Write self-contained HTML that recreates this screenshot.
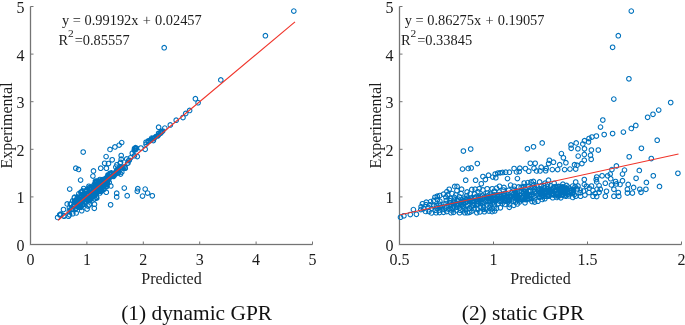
<!DOCTYPE html>
<html><head><meta charset="utf-8"><style>
html,body{margin:0;padding:0;background:#fff;width:685px;height:325px;overflow:hidden}
svg{display:block;will-change:transform}
text{font-family:"Liberation Serif",serif;fill:#1c1c1c}
</style></head><body>
<svg width="685" height="325" viewBox="0 0 685 325">
<g>
<path d="M30.5 6.5V244.5H312.5" fill="none" stroke="#e6e6e6" stroke-width="2.6"/>
<path d="M30.5 6.5V244.5H312.5" fill="none" stroke="#747474" stroke-width="1"/>
<path d="M30.5 244.5v-3M86.9 244.5v-3M143.3 244.5v-3M199.7 244.5v-3M256.1 244.5v-3M312.5 244.5v-3M30.5 244.5h3M30.5 196.9h3M30.5 149.3h3M30.5 101.69999999999999h3M30.5 54.099999999999994h3M30.5 6.5h3" stroke="#747474" stroke-width="1" fill="none"/>
<path d="M399.5 6.5V244.5H681.5" fill="none" stroke="#e6e6e6" stroke-width="2.6"/>
<path d="M399.5 6.5V244.5H681.5" fill="none" stroke="#747474" stroke-width="1"/>
<path d="M399.5 244.5v-3M493.5 244.5v-3M587.5 244.5v-3M681.5 244.5v-3M399.5 244.5h3M399.5 196.9h3M399.5 149.3h3M399.5 101.69999999999999h3M399.5 54.099999999999994h3M399.5 6.5h3" stroke="#747474" stroke-width="1" fill="none"/>
<text x="30.5" y="264.5" text-anchor="middle" font-size="16">0</text>
<text x="24.5" y="251.0" text-anchor="end" font-size="16">0</text>
<text x="393.5" y="251.0" text-anchor="end" font-size="16">0</text>
<text x="86.9" y="264.5" text-anchor="middle" font-size="16">1</text>
<text x="24.5" y="203.4" text-anchor="end" font-size="16">1</text>
<text x="393.5" y="203.4" text-anchor="end" font-size="16">1</text>
<text x="143.3" y="264.5" text-anchor="middle" font-size="16">2</text>
<text x="24.5" y="155.8" text-anchor="end" font-size="16">2</text>
<text x="393.5" y="155.8" text-anchor="end" font-size="16">2</text>
<text x="199.7" y="264.5" text-anchor="middle" font-size="16">3</text>
<text x="24.5" y="108.2" text-anchor="end" font-size="16">3</text>
<text x="393.5" y="108.2" text-anchor="end" font-size="16">3</text>
<text x="256.1" y="264.5" text-anchor="middle" font-size="16">4</text>
<text x="24.5" y="60.6" text-anchor="end" font-size="16">4</text>
<text x="393.5" y="60.6" text-anchor="end" font-size="16">4</text>
<text x="312.5" y="264.5" text-anchor="middle" font-size="16">5</text>
<text x="24.5" y="13.0" text-anchor="end" font-size="16">5</text>
<text x="393.5" y="13.0" text-anchor="end" font-size="16">5</text>
<text x="399.5" y="264.5" text-anchor="middle" font-size="16">0.5</text>
<text x="493.5" y="264.5" text-anchor="middle" font-size="16">1</text>
<text x="587.5" y="264.5" text-anchor="middle" font-size="16">1.5</text>
<text x="681.5" y="264.5" text-anchor="middle" font-size="16">2</text>
<text x="171.5" y="283.5" text-anchor="middle" font-size="16">Predicted</text>
<text x="540.5" y="283.5" text-anchor="middle" font-size="16">Predicted</text>
<text transform="translate(11.6,125.5) rotate(-90)" text-anchor="middle" font-size="16">Experimental</text>
<text transform="translate(380.6,125.5) rotate(-90)" text-anchor="middle" font-size="16">Experimental</text>
<text x="196.6" y="320.4" text-anchor="middle" font-size="21.4" style="fill:#111">(1) dynamic GPR</text>
<text x="523" y="320.4" text-anchor="middle" font-size="21.4" style="fill:#111">(2) static GPR</text>
<path d="M166.5 47.7a2.3 2.3 0 1 0 0 .01M267.7 35.7a2.3 2.3 0 1 0 0 .01M296.1 11.1a2.3 2.3 0 1 0 0 .01M223.1 79.9a2.3 2.3 0 1 0 0 .01M197.7 98.7a2.3 2.3 0 1 0 0 .01M200.4 102.7a2.3 2.3 0 1 0 0 .01M191.9 110.4a2.3 2.3 0 1 0 0 .01M188.0 113.4a2.3 2.3 0 1 0 0 .01M185.3 117.5a2.3 2.3 0 1 0 0 .01M178.5 120.2a2.3 2.3 0 1 0 0 .01M172.6 124.9a2.3 2.3 0 1 0 0 .01M167.1 128.1a2.3 2.3 0 1 0 0 .01M160.9 127.2a2.3 2.3 0 1 0 0 .01M164.0 131.9a2.3 2.3 0 1 0 0 .01M160.8 135.0a2.3 2.3 0 1 0 0 .01M158.3 136.5a2.3 2.3 0 1 0 0 .01M155.8 138.0a2.3 2.3 0 1 0 0 .01M153.3 139.5a2.3 2.3 0 1 0 0 .01M150.8 140.8a2.3 2.3 0 1 0 0 .01M148.3 142.2a2.3 2.3 0 1 0 0 .01M143.2 148.0a2.3 2.3 0 1 0 0 .01M147.5 149.3a2.3 2.3 0 1 0 0 .01M137.7 148.9a2.3 2.3 0 1 0 0 .01M134.6 153.2a2.3 2.3 0 1 0 0 .01M139.6 156.5a2.3 2.3 0 1 0 0 .01M124.0 142.6a2.3 2.3 0 1 0 0 .01M121.5 145.1a2.3 2.3 0 1 0 0 .01M117.2 146.9a2.3 2.3 0 1 0 0 .01M112.3 149.4a2.3 2.3 0 1 0 0 .01M155.7 140.6a2.3 2.3 0 1 0 0 .01M132.9 157.8a2.3 2.3 0 1 0 0 .01M85.5 152.0a2.3 2.3 0 1 0 0 .01M108.4 156.6a2.3 2.3 0 1 0 0 .01M114.5 159.8a2.3 2.3 0 1 0 0 .01M123.5 155.5a2.3 2.3 0 1 0 0 .01M123.5 159.2a2.3 2.3 0 1 0 0 .01M129.0 158.9a2.3 2.3 0 1 0 0 .01M106.9 163.3a2.3 2.3 0 1 0 0 .01M110.8 163.5a2.3 2.3 0 1 0 0 .01M103.0 168.2a2.3 2.3 0 1 0 0 .01M108.7 168.2a2.3 2.3 0 1 0 0 .01M95.8 170.9a2.3 2.3 0 1 0 0 .01M95.2 176.1a2.3 2.3 0 1 0 0 .01M82.9 180.1a2.3 2.3 0 1 0 0 .01M119.2 164.8a2.3 2.3 0 1 0 0 .01M122.9 162.3a2.3 2.3 0 1 0 0 .01M130.3 162.9a2.3 2.3 0 1 0 0 .01M124.1 172.1a2.3 2.3 0 1 0 0 .01M122.9 174.0a2.3 2.3 0 1 0 0 .01M113.1 185.9a2.3 2.3 0 1 0 0 .01M126.6 188.1a2.3 2.3 0 1 0 0 .01M140.1 188.7a2.3 2.3 0 1 0 0 .01M78.1 168.2a2.3 2.3 0 1 0 0 .01M80.8 169.4a2.3 2.3 0 1 0 0 .01M72.0 189.1a2.3 2.3 0 1 0 0 .01M108.6 192.2a2.3 2.3 0 1 0 0 .01M119.0 193.2a2.3 2.3 0 1 0 0 .01M119.0 196.9a2.3 2.3 0 1 0 0 .01M129.5 195.7a2.3 2.3 0 1 0 0 .01M139.6 191.3a2.3 2.3 0 1 0 0 .01M147.5 189.1a2.3 2.3 0 1 0 0 .01M149.9 193.1a2.3 2.3 0 1 0 0 .01M144.8 196.1a2.3 2.3 0 1 0 0 .01M154.6 195.8a2.3 2.3 0 1 0 0 .01M112.9 204.8a2.3 2.3 0 1 0 0 .01M59.9 217.4a2.3 2.3 0 1 0 0 .01M62.8 214.1a2.3 2.3 0 1 0 0 .01M65.8 209.5a2.3 2.3 0 1 0 0 .01M66.4 216.2a2.3 2.3 0 1 0 0 .01M69.5 203.9a2.3 2.3 0 1 0 0 .01M72.6 203.9a2.3 2.3 0 1 0 0 .01M70.8 216.2a2.3 2.3 0 1 0 0 .01M75.1 213.7a2.3 2.3 0 1 0 0 .01M84.0 210.7a2.3 2.3 0 1 0 0 .01M89.4 209.1a2.3 2.3 0 1 0 0 .01M96.6 208.3a2.3 2.3 0 1 0 0 .01M96.8 204.2a2.3 2.3 0 1 0 0 .01M91.7 204.8a2.3 2.3 0 1 0 0 .01M99.0 197.5a2.3 2.3 0 1 0 0 .01M81.2 193.6a2.3 2.3 0 1 0 0 .01M106.4 189.3a2.3 2.3 0 1 0 0 .01M84.3 196.5a2.3 2.3 0 1 0 0 .01M91.8 196.8a2.3 2.3 0 1 0 0 .01M85.7 196.3a2.3 2.3 0 1 0 0 .01M95.2 190.7a2.3 2.3 0 1 0 0 .01M76.0 205.5a2.3 2.3 0 1 0 0 .01M81.9 206.8a2.3 2.3 0 1 0 0 .01M102.0 187.5a2.3 2.3 0 1 0 0 .01M130.9 160.7a2.3 2.3 0 1 0 0 .01M95.7 192.5a2.3 2.3 0 1 0 0 .01M99.5 188.8a2.3 2.3 0 1 0 0 .01M75.0 200.8a2.3 2.3 0 1 0 0 .01M96.6 191.4a2.3 2.3 0 1 0 0 .01M105.7 187.1a2.3 2.3 0 1 0 0 .01M84.7 204.7a2.3 2.3 0 1 0 0 .01M90.8 194.4a2.3 2.3 0 1 0 0 .01M92.7 193.6a2.3 2.3 0 1 0 0 .01M89.6 198.7a2.3 2.3 0 1 0 0 .01M93.5 193.0a2.3 2.3 0 1 0 0 .01M102.2 179.5a2.3 2.3 0 1 0 0 .01M79.0 199.3a2.3 2.3 0 1 0 0 .01M114.0 176.1a2.3 2.3 0 1 0 0 .01M92.7 188.5a2.3 2.3 0 1 0 0 .01M116.2 176.0a2.3 2.3 0 1 0 0 .01M88.6 190.1a2.3 2.3 0 1 0 0 .01M82.2 197.6a2.3 2.3 0 1 0 0 .01M98.8 183.7a2.3 2.3 0 1 0 0 .01M76.7 204.6a2.3 2.3 0 1 0 0 .01M120.8 169.2a2.3 2.3 0 1 0 0 .01M100.8 182.0a2.3 2.3 0 1 0 0 .01M91.2 189.4a2.3 2.3 0 1 0 0 .01M100.5 188.9a2.3 2.3 0 1 0 0 .01M88.0 197.5a2.3 2.3 0 1 0 0 .01M89.7 197.7a2.3 2.3 0 1 0 0 .01M98.3 186.7a2.3 2.3 0 1 0 0 .01M88.2 195.1a2.3 2.3 0 1 0 0 .01M103.6 187.6a2.3 2.3 0 1 0 0 .01M101.9 188.9a2.3 2.3 0 1 0 0 .01M107.4 179.6a2.3 2.3 0 1 0 0 .01M81.6 197.2a2.3 2.3 0 1 0 0 .01M73.8 209.4a2.3 2.3 0 1 0 0 .01M95.0 194.4a2.3 2.3 0 1 0 0 .01M88.0 191.3a2.3 2.3 0 1 0 0 .01M80.3 203.2a2.3 2.3 0 1 0 0 .01M113.1 176.8a2.3 2.3 0 1 0 0 .01M96.0 194.1a2.3 2.3 0 1 0 0 .01M86.3 198.6a2.3 2.3 0 1 0 0 .01M86.4 195.6a2.3 2.3 0 1 0 0 .01M108.2 178.4a2.3 2.3 0 1 0 0 .01M96.2 191.2a2.3 2.3 0 1 0 0 .01M107.8 185.0a2.3 2.3 0 1 0 0 .01M72.9 204.5a2.3 2.3 0 1 0 0 .01M118.5 172.3a2.3 2.3 0 1 0 0 .01M81.6 204.9a2.3 2.3 0 1 0 0 .01M98.7 186.3a2.3 2.3 0 1 0 0 .01M124.8 167.3a2.3 2.3 0 1 0 0 .01M103.5 185.3a2.3 2.3 0 1 0 0 .01M91.0 193.9a2.3 2.3 0 1 0 0 .01M105.3 180.2a2.3 2.3 0 1 0 0 .01M76.6 197.8a2.3 2.3 0 1 0 0 .01M80.9 207.1a2.3 2.3 0 1 0 0 .01M117.7 174.1a2.3 2.3 0 1 0 0 .01M124.3 167.1a2.3 2.3 0 1 0 0 .01M100.5 190.6a2.3 2.3 0 1 0 0 .01M100.0 185.5a2.3 2.3 0 1 0 0 .01M97.7 181.3a2.3 2.3 0 1 0 0 .01M98.7 193.8a2.3 2.3 0 1 0 0 .01M111.5 182.2a2.3 2.3 0 1 0 0 .01M94.1 193.4a2.3 2.3 0 1 0 0 .01M112.3 173.3a2.3 2.3 0 1 0 0 .01M97.0 198.8a2.3 2.3 0 1 0 0 .01M79.6 197.6a2.3 2.3 0 1 0 0 .01M109.5 184.5a2.3 2.3 0 1 0 0 .01M91.6 199.3a2.3 2.3 0 1 0 0 .01M96.2 190.0a2.3 2.3 0 1 0 0 .01M110.1 176.4a2.3 2.3 0 1 0 0 .01M77.0 201.8a2.3 2.3 0 1 0 0 .01M91.2 186.3a2.3 2.3 0 1 0 0 .01M94.2 189.1a2.3 2.3 0 1 0 0 .01M84.0 199.0a2.3 2.3 0 1 0 0 .01M90.4 199.7a2.3 2.3 0 1 0 0 .01M81.6 207.0a2.3 2.3 0 1 0 0 .01M75.5 206.6a2.3 2.3 0 1 0 0 .01M104.5 179.6a2.3 2.3 0 1 0 0 .01M103.2 182.5a2.3 2.3 0 1 0 0 .01M84.4 205.1a2.3 2.3 0 1 0 0 .01M131.6 160.3a2.3 2.3 0 1 0 0 .01M115.8 175.0a2.3 2.3 0 1 0 0 .01M81.2 200.0a2.3 2.3 0 1 0 0 .01M129.9 162.9a2.3 2.3 0 1 0 0 .01M95.4 195.5a2.3 2.3 0 1 0 0 .01M80.7 205.2a2.3 2.3 0 1 0 0 .01M120.4 172.0a2.3 2.3 0 1 0 0 .01M103.5 181.6a2.3 2.3 0 1 0 0 .01M127.6 168.2a2.3 2.3 0 1 0 0 .01M112.3 176.4a2.3 2.3 0 1 0 0 .01M87.9 191.6a2.3 2.3 0 1 0 0 .01M85.5 194.0a2.3 2.3 0 1 0 0 .01M91.7 187.7a2.3 2.3 0 1 0 0 .01M127.4 167.4a2.3 2.3 0 1 0 0 .01M101.5 182.0a2.3 2.3 0 1 0 0 .01M98.7 181.2a2.3 2.3 0 1 0 0 .01M85.7 194.6a2.3 2.3 0 1 0 0 .01M136.7 155.7a2.3 2.3 0 1 0 0 .01M77.7 208.2a2.3 2.3 0 1 0 0 .01M118.4 173.5a2.3 2.3 0 1 0 0 .01M83.4 207.3a2.3 2.3 0 1 0 0 .01M76.8 200.8a2.3 2.3 0 1 0 0 .01M66.0 215.7a2.3 2.3 0 1 0 0 .01M102.1 191.2a2.3 2.3 0 1 0 0 .01M93.7 194.5a2.3 2.3 0 1 0 0 .01M99.1 198.0a2.3 2.3 0 1 0 0 .01M102.1 189.6a2.3 2.3 0 1 0 0 .01M90.4 194.6a2.3 2.3 0 1 0 0 .01M113.4 172.9a2.3 2.3 0 1 0 0 .01M89.9 194.5a2.3 2.3 0 1 0 0 .01M77.7 201.2a2.3 2.3 0 1 0 0 .01M88.7 201.6a2.3 2.3 0 1 0 0 .01M99.0 181.9a2.3 2.3 0 1 0 0 .01M100.6 180.8a2.3 2.3 0 1 0 0 .01M118.8 170.7a2.3 2.3 0 1 0 0 .01M82.3 203.2a2.3 2.3 0 1 0 0 .01M101.1 183.3a2.3 2.3 0 1 0 0 .01M96.9 195.9a2.3 2.3 0 1 0 0 .01M88.9 195.2a2.3 2.3 0 1 0 0 .01M79.7 198.5a2.3 2.3 0 1 0 0 .01M122.4 163.3a2.3 2.3 0 1 0 0 .01M115.1 175.6a2.3 2.3 0 1 0 0 .01M120.0 168.9a2.3 2.3 0 1 0 0 .01M109.6 179.8a2.3 2.3 0 1 0 0 .01M94.6 197.1a2.3 2.3 0 1 0 0 .01M81.8 206.0a2.3 2.3 0 1 0 0 .01M93.6 198.4a2.3 2.3 0 1 0 0 .01M115.7 176.4a2.3 2.3 0 1 0 0 .01M86.0 195.8a2.3 2.3 0 1 0 0 .01M83.2 196.7a2.3 2.3 0 1 0 0 .01M90.4 197.0a2.3 2.3 0 1 0 0 .01M86.5 195.1a2.3 2.3 0 1 0 0 .01M108.4 184.7a2.3 2.3 0 1 0 0 .01M123.4 168.8a2.3 2.3 0 1 0 0 .01M91.2 198.2a2.3 2.3 0 1 0 0 .01M130.0 163.3a2.3 2.3 0 1 0 0 .01M87.1 204.1a2.3 2.3 0 1 0 0 .01M90.9 194.3a2.3 2.3 0 1 0 0 .01M112.2 174.5a2.3 2.3 0 1 0 0 .01M99.0 198.0a2.3 2.3 0 1 0 0 .01M86.6 199.4a2.3 2.3 0 1 0 0 .01M110.7 178.3a2.3 2.3 0 1 0 0 .01M92.2 200.7a2.3 2.3 0 1 0 0 .01M82.5 205.2a2.3 2.3 0 1 0 0 .01M100.2 188.8a2.3 2.3 0 1 0 0 .01M110.2 174.9a2.3 2.3 0 1 0 0 .01M88.6 202.0a2.3 2.3 0 1 0 0 .01M77.1 204.7a2.3 2.3 0 1 0 0 .01M96.6 194.8a2.3 2.3 0 1 0 0 .01M83.9 200.3a2.3 2.3 0 1 0 0 .01M78.8 201.2a2.3 2.3 0 1 0 0 .01M96.4 189.1a2.3 2.3 0 1 0 0 .01M102.2 192.9a2.3 2.3 0 1 0 0 .01M90.6 197.5a2.3 2.3 0 1 0 0 .01M103.4 191.4a2.3 2.3 0 1 0 0 .01M71.7 207.5a2.3 2.3 0 1 0 0 .01M96.0 185.4a2.3 2.3 0 1 0 0 .01M120.9 172.7a2.3 2.3 0 1 0 0 .01M99.7 188.1a2.3 2.3 0 1 0 0 .01M83.8 191.6a2.3 2.3 0 1 0 0 .01M122.7 167.0a2.3 2.3 0 1 0 0 .01M106.6 182.0a2.3 2.3 0 1 0 0 .01M88.4 198.0a2.3 2.3 0 1 0 0 .01M82.6 200.9a2.3 2.3 0 1 0 0 .01M84.8 190.9a2.3 2.3 0 1 0 0 .01M118.6 173.4a2.3 2.3 0 1 0 0 .01M79.7 197.0a2.3 2.3 0 1 0 0 .01M108.0 178.2a2.3 2.3 0 1 0 0 .01M88.9 193.5a2.3 2.3 0 1 0 0 .01M85.2 199.5a2.3 2.3 0 1 0 0 .01M103.2 183.8a2.3 2.3 0 1 0 0 .01M96.7 184.2a2.3 2.3 0 1 0 0 .01M77.5 209.4a2.3 2.3 0 1 0 0 .01M102.3 190.6a2.3 2.3 0 1 0 0 .01M112.8 173.6a2.3 2.3 0 1 0 0 .01M98.1 192.8a2.3 2.3 0 1 0 0 .01M78.3 201.8a2.3 2.3 0 1 0 0 .01M106.6 183.7a2.3 2.3 0 1 0 0 .01M97.5 190.1a2.3 2.3 0 1 0 0 .01M95.7 186.1a2.3 2.3 0 1 0 0 .01M92.4 199.9a2.3 2.3 0 1 0 0 .01M100.3 191.5a2.3 2.3 0 1 0 0 .01M114.5 173.8a2.3 2.3 0 1 0 0 .01M62.9 215.0a2.3 2.3 0 1 0 0 .01M103.2 181.6a2.3 2.3 0 1 0 0 .01M83.6 194.9a2.3 2.3 0 1 0 0 .01M104.0 189.9a2.3 2.3 0 1 0 0 .01M118.1 167.1a2.3 2.3 0 1 0 0 .01M93.5 189.2a2.3 2.3 0 1 0 0 .01M109.3 178.0a2.3 2.3 0 1 0 0 .01M119.3 170.7a2.3 2.3 0 1 0 0 .01M83.5 197.6a2.3 2.3 0 1 0 0 .01M97.7 188.3a2.3 2.3 0 1 0 0 .01M92.6 189.5a2.3 2.3 0 1 0 0 .01M96.2 187.2a2.3 2.3 0 1 0 0 .01M105.1 185.5a2.3 2.3 0 1 0 0 .01M111.3 178.5a2.3 2.3 0 1 0 0 .01M100.3 182.9a2.3 2.3 0 1 0 0 .01M108.0 186.9a2.3 2.3 0 1 0 0 .01M109.6 181.7a2.3 2.3 0 1 0 0 .01M71.6 211.2a2.3 2.3 0 1 0 0 .01M62.0 214.7a2.3 2.3 0 1 0 0 .01M104.4 184.4a2.3 2.3 0 1 0 0 .01M86.0 188.5a2.3 2.3 0 1 0 0 .01M114.2 173.1a2.3 2.3 0 1 0 0 .01M107.8 184.7a2.3 2.3 0 1 0 0 .01M104.8 185.5a2.3 2.3 0 1 0 0 .01M71.9 214.7a2.3 2.3 0 1 0 0 .01M93.9 188.7a2.3 2.3 0 1 0 0 .01M119.5 170.1a2.3 2.3 0 1 0 0 .01M121.1 170.4a2.3 2.3 0 1 0 0 .01M109.4 186.2a2.3 2.3 0 1 0 0 .01M98.7 191.9a2.3 2.3 0 1 0 0 .01M102.1 181.0a2.3 2.3 0 1 0 0 .01M126.1 167.0a2.3 2.3 0 1 0 0 .01M85.7 195.9a2.3 2.3 0 1 0 0 .01M98.0 183.8a2.3 2.3 0 1 0 0 .01M96.4 185.0a2.3 2.3 0 1 0 0 .01M93.1 193.2a2.3 2.3 0 1 0 0 .01M89.8 195.8a2.3 2.3 0 1 0 0 .01M83.1 192.2a2.3 2.3 0 1 0 0 .01M83.2 203.4a2.3 2.3 0 1 0 0 .01M87.4 199.2a2.3 2.3 0 1 0 0 .01M87.7 202.6a2.3 2.3 0 1 0 0 .01M109.7 183.2a2.3 2.3 0 1 0 0 .01M96.1 192.5a2.3 2.3 0 1 0 0 .01M94.6 191.1a2.3 2.3 0 1 0 0 .01M76.8 197.2a2.3 2.3 0 1 0 0 .01M110.0 176.0a2.3 2.3 0 1 0 0 .01M98.4 193.4a2.3 2.3 0 1 0 0 .01M98.4 197.2a2.3 2.3 0 1 0 0 .01M117.1 172.9a2.3 2.3 0 1 0 0 .01M76.7 206.9a2.3 2.3 0 1 0 0 .01M90.3 206.1a2.3 2.3 0 1 0 0 .01M96.3 188.2a2.3 2.3 0 1 0 0 .01M74.6 208.9a2.3 2.3 0 1 0 0 .01M73.0 209.5a2.3 2.3 0 1 0 0 .01M78.5 212.9a2.3 2.3 0 1 0 0 .01M110.4 180.2a2.3 2.3 0 1 0 0 .01M106.4 180.9a2.3 2.3 0 1 0 0 .01M91.4 200.7a2.3 2.3 0 1 0 0 .01M116.9 174.9a2.3 2.3 0 1 0 0 .01M84.4 200.3a2.3 2.3 0 1 0 0 .01M104.8 187.4a2.3 2.3 0 1 0 0 .01M103.1 188.2a2.3 2.3 0 1 0 0 .01M148.3 144.1a2.3 2.3 0 1 0 0 .01M150.3 141.7a2.3 2.3 0 1 0 0 .01M150.7 140.9a2.3 2.3 0 1 0 0 .01M152.6 140.4a2.3 2.3 0 1 0 0 .01M154.0 138.1a2.3 2.3 0 1 0 0 .01M155.8 138.7a2.3 2.3 0 1 0 0 .01M156.6 137.8a2.3 2.3 0 1 0 0 .01M157.2 137.4a2.3 2.3 0 1 0 0 .01M159.3 136.1a2.3 2.3 0 1 0 0 .01M160.0 135.9a2.3 2.3 0 1 0 0 .01M160.9 133.3a2.3 2.3 0 1 0 0 .01M162.9 133.2a2.3 2.3 0 1 0 0 .01M162.8 132.2a2.3 2.3 0 1 0 0 .01M165.0 131.0a2.3 2.3 0 1 0 0 .01M136.8 148.5a2.3 2.3 0 1 0 0 .01M138.1 149.6a2.3 2.3 0 1 0 0 .01M138.8 148.2a2.3 2.3 0 1 0 0 .01M136.5 150.2a2.3 2.3 0 1 0 0 .01M137.8 147.6a2.3 2.3 0 1 0 0 .01" fill="none" stroke="#0072BD" stroke-width="1.1"/>
<path d="M402.8 217.2a2.3 2.3 0 1 0 0 .01M406.2 215.8a2.3 2.3 0 1 0 0 .01M412.6 214.5a2.3 2.3 0 1 0 0 .01M415.7 209.6a2.3 2.3 0 1 0 0 .01M418.7 214.3a2.3 2.3 0 1 0 0 .01M423.1 209.6a2.3 2.3 0 1 0 0 .01M633.6 11.1a2.3 2.3 0 1 0 0 .01M620.6 35.7a2.3 2.3 0 1 0 0 .01M614.9 47.3a2.3 2.3 0 1 0 0 .01M631.2 78.8a2.3 2.3 0 1 0 0 .01M616.1 99.1a2.3 2.3 0 1 0 0 .01M673.0 102.5a2.3 2.3 0 1 0 0 .01M661.0 110.1a2.3 2.3 0 1 0 0 .01M655.3 114.3a2.3 2.3 0 1 0 0 .01M649.9 117.3a2.3 2.3 0 1 0 0 .01M638.1 125.4a2.3 2.3 0 1 0 0 .01M633.6 128.4a2.3 2.3 0 1 0 0 .01M625.7 132.1a2.3 2.3 0 1 0 0 .01M614.9 133.5a2.3 2.3 0 1 0 0 .01M606.5 134.5a2.3 2.3 0 1 0 0 .01M605.1 120.0a2.3 2.3 0 1 0 0 .01M602.8 127.1a2.3 2.3 0 1 0 0 .01M598.7 136.0a2.3 2.3 0 1 0 0 .01M594.2 137.0a2.3 2.3 0 1 0 0 .01M591.3 138.5a2.3 2.3 0 1 0 0 .01M586.8 140.7a2.3 2.3 0 1 0 0 .01M590.8 141.9a2.3 2.3 0 1 0 0 .01M585.1 143.9a2.3 2.3 0 1 0 0 .01M578.5 142.9a2.3 2.3 0 1 0 0 .01M573.3 144.9a2.3 2.3 0 1 0 0 .01M573.5 148.3a2.3 2.3 0 1 0 0 .01M580.2 148.8a2.3 2.3 0 1 0 0 .01M586.8 148.8a2.3 2.3 0 1 0 0 .01M593.7 150.0a2.3 2.3 0 1 0 0 .01M600.6 150.0a2.3 2.3 0 1 0 0 .01M544.5 142.9a2.3 2.3 0 1 0 0 .01M535.8 146.8a2.3 2.3 0 1 0 0 .01M529.7 148.8a2.3 2.3 0 1 0 0 .01M659.5 140.2a2.3 2.3 0 1 0 0 .01M643.7 148.3a2.3 2.3 0 1 0 0 .01M473.0 149.0a2.3 2.3 0 1 0 0 .01M465.7 151.0a2.3 2.3 0 1 0 0 .01M479.6 163.5a2.3 2.3 0 1 0 0 .01M464.8 169.1a2.3 2.3 0 1 0 0 .01M470.5 168.4a2.3 2.3 0 1 0 0 .01M473.5 167.9a2.3 2.3 0 1 0 0 .01M468.0 180.2a2.3 2.3 0 1 0 0 .01M477.9 180.2a2.3 2.3 0 1 0 0 .01M563.7 153.6a2.3 2.3 0 1 0 0 .01M580.5 156.1a2.3 2.3 0 1 0 0 .01M586.6 154.4a2.3 2.3 0 1 0 0 .01M592.8 155.3a2.3 2.3 0 1 0 0 .01M593.5 159.3a2.3 2.3 0 1 0 0 .01M586.6 160.3a2.3 2.3 0 1 0 0 .01M565.7 157.8a2.3 2.3 0 1 0 0 .01M631.5 156.8a2.3 2.3 0 1 0 0 .01M653.6 158.5a2.3 2.3 0 1 0 0 .01M551.7 160.3a2.3 2.3 0 1 0 0 .01M555.8 162.2a2.3 2.3 0 1 0 0 .01M550.9 163.5a2.3 2.3 0 1 0 0 .01M568.2 162.7a2.3 2.3 0 1 0 0 .01M576.8 164.7a2.3 2.3 0 1 0 0 .01M579.3 165.2a2.3 2.3 0 1 0 0 .01M584.2 163.5a2.3 2.3 0 1 0 0 .01M562.0 164.7a2.3 2.3 0 1 0 0 .01M543.5 167.2a2.3 2.3 0 1 0 0 .01M548.5 168.4a2.3 2.3 0 1 0 0 .01M554.6 169.6a2.3 2.3 0 1 0 0 .01M560.0 169.6a2.3 2.3 0 1 0 0 .01M566.9 169.6a2.3 2.3 0 1 0 0 .01M572.3 169.1a2.3 2.3 0 1 0 0 .01M578.0 169.1a2.3 2.3 0 1 0 0 .01M542.3 170.9a2.3 2.3 0 1 0 0 .01M618.7 165.9a2.3 2.3 0 1 0 0 .01M614.2 169.6a2.3 2.3 0 1 0 0 .01M626.8 170.1a2.3 2.3 0 1 0 0 .01M641.6 170.4a2.3 2.3 0 1 0 0 .01M680.2 173.3a2.3 2.3 0 1 0 0 .01M612.5 174.1a2.3 2.3 0 1 0 0 .01M610.0 175.8a2.3 2.3 0 1 0 0 .01M604.4 175.8a2.3 2.3 0 1 0 0 .01M599.0 177.0a2.3 2.3 0 1 0 0 .01M624.8 174.1a2.3 2.3 0 1 0 0 .01M655.6 175.8a2.3 2.3 0 1 0 0 .01M638.4 178.3a2.3 2.3 0 1 0 0 .01M613.0 178.7a2.3 2.3 0 1 0 0 .01M617.9 181.5a2.3 2.3 0 1 0 0 .01M624.8 180.7a2.3 2.3 0 1 0 0 .01M648.7 182.4a2.3 2.3 0 1 0 0 .01M586.6 179.5a2.3 2.3 0 1 0 0 .01M598.5 179.5a2.3 2.3 0 1 0 0 .01M599.0 181.9a2.3 2.3 0 1 0 0 .01M607.6 183.2a2.3 2.3 0 1 0 0 .01M613.7 184.9a2.3 2.3 0 1 0 0 .01M618.7 183.9a2.3 2.3 0 1 0 0 .01M622.3 184.4a2.3 2.3 0 1 0 0 .01M630.5 184.4a2.3 2.3 0 1 0 0 .01M661.8 186.4a2.3 2.3 0 1 0 0 .01M635.9 187.4a2.3 2.3 0 1 0 0 .01M642.1 189.3a2.3 2.3 0 1 0 0 .01M648.2 189.3a2.3 2.3 0 1 0 0 .01M601.4 185.6a2.3 2.3 0 1 0 0 .01M602.6 189.3a2.3 2.3 0 1 0 0 .01M608.8 191.3a2.3 2.3 0 1 0 0 .01M616.2 189.3a2.3 2.3 0 1 0 0 .01M620.6 192.5a2.3 2.3 0 1 0 0 .01M629.7 189.3a2.3 2.3 0 1 0 0 .01M629.7 193.0a2.3 2.3 0 1 0 0 .01M634.7 193.0a2.3 2.3 0 1 0 0 .01M643.3 192.3a2.3 2.3 0 1 0 0 .01M621.1 196.2a2.3 2.3 0 1 0 0 .01M616.2 196.2a2.3 2.3 0 1 0 0 .01M607.6 196.2a2.3 2.3 0 1 0 0 .01M601.4 192.3a2.3 2.3 0 1 0 0 .01M595.3 196.2a2.3 2.3 0 1 0 0 .01M595.3 190.6a2.3 2.3 0 1 0 0 .01M591.6 188.1a2.3 2.3 0 1 0 0 .01M582.9 196.2a2.3 2.3 0 1 0 0 .01M578.0 196.2a2.3 2.3 0 1 0 0 .01M568.2 196.2a2.3 2.3 0 1 0 0 .01M560.8 196.2a2.3 2.3 0 1 0 0 .01M550.9 196.2a2.3 2.3 0 1 0 0 .01M543.5 195.5a2.3 2.3 0 1 0 0 .01M578.0 182.0a2.3 2.3 0 1 0 0 .01M586.6 184.4a2.3 2.3 0 1 0 0 .01M532.6 163.3a2.3 2.3 0 1 0 0 .01M537.5 163.3a2.3 2.3 0 1 0 0 .01M485.2 176.5a2.3 2.3 0 1 0 0 .01M490.8 175.2a2.3 2.3 0 1 0 0 .01M487.7 179.5a2.3 2.3 0 1 0 0 .01M495.1 177.1a2.3 2.3 0 1 0 0 .01M497.5 174.0a2.3 2.3 0 1 0 0 .01M498.1 177.7a2.3 2.3 0 1 0 0 .01M500.0 173.1a2.3 2.3 0 1 0 0 .01M502.5 172.8a2.3 2.3 0 1 0 0 .01M504.9 172.4a2.3 2.3 0 1 0 0 .01M508.0 172.2a2.3 2.3 0 1 0 0 .01M511.7 172.2a2.3 2.3 0 1 0 0 .01M516.4 168.5a2.3 2.3 0 1 0 0 .01M518.8 171.9a2.3 2.3 0 1 0 0 .01M521.5 171.5a2.3 2.3 0 1 0 0 .01M522.1 168.2a2.3 2.3 0 1 0 0 .01M527.7 168.5a2.3 2.3 0 1 0 0 .01M531.1 171.2a2.3 2.3 0 1 0 0 .01M536.3 168.2a2.3 2.3 0 1 0 0 .01M538.8 170.9a2.3 2.3 0 1 0 0 .01M548.0 170.7a2.3 2.3 0 1 0 0 .01M509.8 178.6a2.3 2.3 0 1 0 0 .01M519.7 178.6a2.3 2.3 0 1 0 0 .01M483.6 183.8a2.3 2.3 0 1 0 0 .01M526.5 183.0a2.3 2.3 0 1 0 0 .01M530.1 182.6a2.3 2.3 0 1 0 0 .01M535.7 181.4a2.3 2.3 0 1 0 0 .01M550.8 180.2a2.3 2.3 0 1 0 0 .01M501.8 186.3a2.3 2.3 0 1 0 0 .01M498.8 188.2a2.3 2.3 0 1 0 0 .01M512.9 185.1a2.3 2.3 0 1 0 0 .01M516.6 186.3a2.3 2.3 0 1 0 0 .01M520.9 186.9a2.3 2.3 0 1 0 0 .01M474.1 189.4a2.3 2.3 0 1 0 0 .01M481.5 188.8a2.3 2.3 0 1 0 0 .01M489.5 188.8a2.3 2.3 0 1 0 0 .01M494.5 188.8a2.3 2.3 0 1 0 0 .01M543.7 185.7a2.3 2.3 0 1 0 0 .01M547.4 183.2a2.3 2.3 0 1 0 0 .01M457.0 186.4a2.3 2.3 0 1 0 0 .01M459.4 186.4a2.3 2.3 0 1 0 0 .01M451.5 189.3a2.3 2.3 0 1 0 0 .01M533.3 181.9a2.3 2.3 0 1 0 0 .01M541.9 181.9a2.3 2.3 0 1 0 0 .01M438.5 212.7a2.3 2.3 0 1 0 0 .01M453.3 212.7a2.3 2.3 0 1 0 0 .01M461.9 212.7a2.3 2.3 0 1 0 0 .01M469.8 212.7a2.3 2.3 0 1 0 0 .01M479.1 212.7a2.3 2.3 0 1 0 0 .01M494.4 211.5a2.3 2.3 0 1 0 0 .01M498.8 208.5a2.3 2.3 0 1 0 0 .01M511.6 207.3a2.3 2.3 0 1 0 0 .01M516.1 205.3a2.3 2.3 0 1 0 0 .01M521.7 202.1a2.3 2.3 0 1 0 0 .01M537.0 202.1a2.3 2.3 0 1 0 0 .01M540.2 201.2a2.3 2.3 0 1 0 0 .01M445.9 212.3a2.3 2.3 0 1 0 0 .01M455.9 212.3a2.3 2.3 0 1 0 0 .01M472.0 212.3a2.3 2.3 0 1 0 0 .01M485.6 209.3a2.3 2.3 0 1 0 0 .01M558.9 197.4a2.3 2.3 0 1 0 0 .01M575.0 197.4a2.3 2.3 0 1 0 0 .01M428.6 202.2a2.3 2.3 0 1 0 0 .01M428.3 204.7a2.3 2.3 0 1 0 0 .01M432.9 201.6a2.3 2.3 0 1 0 0 .01M437.2 197.3a2.3 2.3 0 1 0 0 .01M436.0 200.4a2.3 2.3 0 1 0 0 .01M442.1 195.5a2.3 2.3 0 1 0 0 .01M445.8 194.2a2.3 2.3 0 1 0 0 .01M454.4 193.6a2.3 2.3 0 1 0 0 .01M469.4 191.9a2.3 2.3 0 1 0 0 .01M568.9 185.4a2.3 2.3 0 1 0 0 .01M471.8 203.2a2.3 2.3 0 1 0 0 .01M523.5 187.2a2.3 2.3 0 1 0 0 .01M500.2 203.6a2.3 2.3 0 1 0 0 .01M484.6 198.6a2.3 2.3 0 1 0 0 .01M507.1 204.4a2.3 2.3 0 1 0 0 .01M458.6 210.4a2.3 2.3 0 1 0 0 .01M538.3 195.3a2.3 2.3 0 1 0 0 .01M515.3 201.2a2.3 2.3 0 1 0 0 .01M547.0 193.2a2.3 2.3 0 1 0 0 .01M516.4 189.3a2.3 2.3 0 1 0 0 .01M531.0 186.0a2.3 2.3 0 1 0 0 .01M425.9 208.7a2.3 2.3 0 1 0 0 .01M510.2 202.0a2.3 2.3 0 1 0 0 .01M533.4 198.5a2.3 2.3 0 1 0 0 .01M599.0 196.5a2.3 2.3 0 1 0 0 .01M492.4 194.0a2.3 2.3 0 1 0 0 .01M501.6 192.0a2.3 2.3 0 1 0 0 .01M532.7 191.5a2.3 2.3 0 1 0 0 .01M504.5 203.6a2.3 2.3 0 1 0 0 .01M565.2 184.2a2.3 2.3 0 1 0 0 .01M534.0 194.6a2.3 2.3 0 1 0 0 .01M502.7 207.8a2.3 2.3 0 1 0 0 .01M564.9 195.3a2.3 2.3 0 1 0 0 .01M550.8 188.6a2.3 2.3 0 1 0 0 .01M521.1 191.6a2.3 2.3 0 1 0 0 .01M459.2 190.6a2.3 2.3 0 1 0 0 .01M506.9 201.0a2.3 2.3 0 1 0 0 .01M582.7 190.1a2.3 2.3 0 1 0 0 .01M449.9 194.8a2.3 2.3 0 1 0 0 .01M469.0 195.8a2.3 2.3 0 1 0 0 .01M475.5 203.0a2.3 2.3 0 1 0 0 .01M434.1 208.6a2.3 2.3 0 1 0 0 .01M585.8 191.0a2.3 2.3 0 1 0 0 .01M436.0 206.0a2.3 2.3 0 1 0 0 .01M473.3 197.9a2.3 2.3 0 1 0 0 .01M506.6 193.7a2.3 2.3 0 1 0 0 .01M456.6 197.4a2.3 2.3 0 1 0 0 .01M455.0 207.7a2.3 2.3 0 1 0 0 .01M597.5 193.4a2.3 2.3 0 1 0 0 .01M530.1 196.2a2.3 2.3 0 1 0 0 .01M511.0 190.2a2.3 2.3 0 1 0 0 .01M517.0 195.9a2.3 2.3 0 1 0 0 .01M485.9 202.8a2.3 2.3 0 1 0 0 .01M533.5 187.5a2.3 2.3 0 1 0 0 .01M470.4 205.6a2.3 2.3 0 1 0 0 .01M555.2 188.2a2.3 2.3 0 1 0 0 .01M558.3 194.0a2.3 2.3 0 1 0 0 .01M540.4 189.3a2.3 2.3 0 1 0 0 .01M552.8 185.8a2.3 2.3 0 1 0 0 .01M505.6 190.0a2.3 2.3 0 1 0 0 .01M562.1 186.6a2.3 2.3 0 1 0 0 .01M569.3 193.3a2.3 2.3 0 1 0 0 .01M582.5 192.8a2.3 2.3 0 1 0 0 .01M438.8 205.5a2.3 2.3 0 1 0 0 .01M441.7 209.9a2.3 2.3 0 1 0 0 .01M496.4 207.1a2.3 2.3 0 1 0 0 .01M477.0 194.0a2.3 2.3 0 1 0 0 .01M579.7 188.9a2.3 2.3 0 1 0 0 .01M527.2 188.9a2.3 2.3 0 1 0 0 .01M587.2 195.1a2.3 2.3 0 1 0 0 .01M516.4 192.7a2.3 2.3 0 1 0 0 .01M546.3 185.8a2.3 2.3 0 1 0 0 .01M556.5 183.3a2.3 2.3 0 1 0 0 .01M461.7 196.8a2.3 2.3 0 1 0 0 .01M449.0 211.6a2.3 2.3 0 1 0 0 .01M538.9 185.5a2.3 2.3 0 1 0 0 .01M554.0 191.3a2.3 2.3 0 1 0 0 .01M525.8 193.3a2.3 2.3 0 1 0 0 .01M495.5 198.8a2.3 2.3 0 1 0 0 .01M423.4 206.7a2.3 2.3 0 1 0 0 .01M439.5 208.1a2.3 2.3 0 1 0 0 .01M480.1 191.6a2.3 2.3 0 1 0 0 .01M439.6 196.2a2.3 2.3 0 1 0 0 .01M543.5 191.2a2.3 2.3 0 1 0 0 .01M448.1 196.9a2.3 2.3 0 1 0 0 .01M525.5 196.1a2.3 2.3 0 1 0 0 .01M528.7 192.4a2.3 2.3 0 1 0 0 .01M462.1 207.7a2.3 2.3 0 1 0 0 .01M563.1 197.8a2.3 2.3 0 1 0 0 .01M465.9 201.0a2.3 2.3 0 1 0 0 .01M442.1 201.1a2.3 2.3 0 1 0 0 .01M558.8 191.4a2.3 2.3 0 1 0 0 .01M430.4 207.3a2.3 2.3 0 1 0 0 .01M477.1 198.1a2.3 2.3 0 1 0 0 .01M487.3 198.7a2.3 2.3 0 1 0 0 .01M483.1 203.0a2.3 2.3 0 1 0 0 .01M465.3 210.7a2.3 2.3 0 1 0 0 .01M519.6 203.9a2.3 2.3 0 1 0 0 .01M448.6 200.4a2.3 2.3 0 1 0 0 .01M522.1 194.9a2.3 2.3 0 1 0 0 .01M465.8 204.7a2.3 2.3 0 1 0 0 .01M528.9 199.7a2.3 2.3 0 1 0 0 .01M599.4 189.1a2.3 2.3 0 1 0 0 .01M580.3 185.9a2.3 2.3 0 1 0 0 .01M463.9 189.2a2.3 2.3 0 1 0 0 .01M446.2 204.1a2.3 2.3 0 1 0 0 .01M457.4 202.6a2.3 2.3 0 1 0 0 .01M491.8 208.0a2.3 2.3 0 1 0 0 .01M472.4 193.6a2.3 2.3 0 1 0 0 .01M463.0 202.5a2.3 2.3 0 1 0 0 .01M497.2 196.7a2.3 2.3 0 1 0 0 .01M453.7 204.7a2.3 2.3 0 1 0 0 .01M488.9 204.8a2.3 2.3 0 1 0 0 .01M536.7 187.2a2.3 2.3 0 1 0 0 .01M536.2 184.7a2.3 2.3 0 1 0 0 .01M512.7 197.2a2.3 2.3 0 1 0 0 .01M510.0 195.6a2.3 2.3 0 1 0 0 .01M453.2 198.8a2.3 2.3 0 1 0 0 .01M588.7 186.2a2.3 2.3 0 1 0 0 .01M496.7 191.0a2.3 2.3 0 1 0 0 .01M523.7 199.8a2.3 2.3 0 1 0 0 .01M566.2 189.3a2.3 2.3 0 1 0 0 .01M497.4 201.1a2.3 2.3 0 1 0 0 .01M471.9 200.4a2.3 2.3 0 1 0 0 .01M555.0 197.7a2.3 2.3 0 1 0 0 .01M591.3 192.5a2.3 2.3 0 1 0 0 .01M485.2 189.9a2.3 2.3 0 1 0 0 .01M476.4 208.8a2.3 2.3 0 1 0 0 .01M427.8 211.4a2.3 2.3 0 1 0 0 .01M477.4 189.2a2.3 2.3 0 1 0 0 .01M519.6 197.8a2.3 2.3 0 1 0 0 .01M484.4 195.4a2.3 2.3 0 1 0 0 .01M431.2 211.5a2.3 2.3 0 1 0 0 .01M468.1 209.7a2.3 2.3 0 1 0 0 .01M480.2 209.6a2.3 2.3 0 1 0 0 .01M478.5 205.6a2.3 2.3 0 1 0 0 .01M491.2 196.7a2.3 2.3 0 1 0 0 .01M559.2 187.6a2.3 2.3 0 1 0 0 .01M527.3 202.8a2.3 2.3 0 1 0 0 .01M506.3 187.4a2.3 2.3 0 1 0 0 .01M439.7 199.6a2.3 2.3 0 1 0 0 .01M574.3 189.2a2.3 2.3 0 1 0 0 .01M570.9 195.9a2.3 2.3 0 1 0 0 .01M437.4 210.2a2.3 2.3 0 1 0 0 .01M593.8 186.0a2.3 2.3 0 1 0 0 .01M565.0 186.8a2.3 2.3 0 1 0 0 .01M577.5 186.7a2.3 2.3 0 1 0 0 .01M432.0 204.7a2.3 2.3 0 1 0 0 .01M488.6 201.4a2.3 2.3 0 1 0 0 .01M424.7 203.8a2.3 2.3 0 1 0 0 .01M441.8 212.6a2.3 2.3 0 1 0 0 .01M441.3 204.0a2.3 2.3 0 1 0 0 .01M473.4 206.8a2.3 2.3 0 1 0 0 .01M463.4 193.4a2.3 2.3 0 1 0 0 .01M448.0 208.1a2.3 2.3 0 1 0 0 .01M544.5 199.4a2.3 2.3 0 1 0 0 .01M562.2 191.5a2.3 2.3 0 1 0 0 .01M449.2 191.6a2.3 2.3 0 1 0 0 .01M444.8 206.6a2.3 2.3 0 1 0 0 .01M460.6 200.9a2.3 2.3 0 1 0 0 .01M570.0 189.8a2.3 2.3 0 1 0 0 .01M512.0 204.5a2.3 2.3 0 1 0 0 .01M534.3 201.6a2.3 2.3 0 1 0 0 .01M547.1 198.7a2.3 2.3 0 1 0 0 .01M541.8 197.6a2.3 2.3 0 1 0 0 .01M526.1 186.5a2.3 2.3 0 1 0 0 .01M466.9 198.1a2.3 2.3 0 1 0 0 .01M517.7 202.2a2.3 2.3 0 1 0 0 .01M549.9 184.3a2.3 2.3 0 1 0 0 .01M489.8 193.0a2.3 2.3 0 1 0 0 .01M492.6 200.7a2.3 2.3 0 1 0 0 .01M458.0 195.1a2.3 2.3 0 1 0 0 .01M514.3 192.3a2.3 2.3 0 1 0 0 .01M519.5 192.0a2.3 2.3 0 1 0 0 .01M560.7 186.4a2.3 2.3 0 1 0 0 .01M512.7 195.6a2.3 2.3 0 1 0 0 .01M552.1 193.0a2.3 2.3 0 1 0 0 .01M449.2 206.5a2.3 2.3 0 1 0 0 .01M458.5 204.6a2.3 2.3 0 1 0 0 .01M536.2 196.2a2.3 2.3 0 1 0 0 .01M476.1 200.1a2.3 2.3 0 1 0 0 .01M529.9 194.3a2.3 2.3 0 1 0 0 .01M551.1 190.3a2.3 2.3 0 1 0 0 .01M552.4 189.4a2.3 2.3 0 1 0 0 .01M499.5 198.2a2.3 2.3 0 1 0 0 .01M567.4 193.2a2.3 2.3 0 1 0 0 .01M575.9 190.1a2.3 2.3 0 1 0 0 .01M554.3 189.5a2.3 2.3 0 1 0 0 .01M480.9 196.8a2.3 2.3 0 1 0 0 .01M550.5 194.8a2.3 2.3 0 1 0 0 .01M501.5 201.0a2.3 2.3 0 1 0 0 .01M511.1 199.2a2.3 2.3 0 1 0 0 .01M520.5 196.8a2.3 2.3 0 1 0 0 .01M527.3 191.5a2.3 2.3 0 1 0 0 .01M559.3 189.6a2.3 2.3 0 1 0 0 .01M537.0 191.5a2.3 2.3 0 1 0 0 .01M518.7 196.0a2.3 2.3 0 1 0 0 .01M483.0 196.7a2.3 2.3 0 1 0 0 .01M567.2 190.4a2.3 2.3 0 1 0 0 .01M460.5 204.8a2.3 2.3 0 1 0 0 .01M489.2 199.8a2.3 2.3 0 1 0 0 .01M570.5 194.2a2.3 2.3 0 1 0 0 .01M561.7 195.2a2.3 2.3 0 1 0 0 .01M456.1 206.5a2.3 2.3 0 1 0 0 .01M502.6 194.5a2.3 2.3 0 1 0 0 .01M519.7 199.3a2.3 2.3 0 1 0 0 .01M572.1 189.1a2.3 2.3 0 1 0 0 .01M549.1 196.4a2.3 2.3 0 1 0 0 .01M553.6 194.8a2.3 2.3 0 1 0 0 .01M535.5 190.3a2.3 2.3 0 1 0 0 .01M532.7 190.2a2.3 2.3 0 1 0 0 .01M479.0 204.2a2.3 2.3 0 1 0 0 .01M568.4 191.0a2.3 2.3 0 1 0 0 .01M481.7 198.9a2.3 2.3 0 1 0 0 .01M523.7 191.4a2.3 2.3 0 1 0 0 .01M490.5 198.8a2.3 2.3 0 1 0 0 .01M537.3 197.5a2.3 2.3 0 1 0 0 .01M575.7 192.6a2.3 2.3 0 1 0 0 .01M566.3 195.7a2.3 2.3 0 1 0 0 .01M515.5 194.4a2.3 2.3 0 1 0 0 .01M562.3 188.8a2.3 2.3 0 1 0 0 .01M474.8 200.5a2.3 2.3 0 1 0 0 .01M502.3 198.1a2.3 2.3 0 1 0 0 .01M531.8 198.8a2.3 2.3 0 1 0 0 .01M489.6 196.0a2.3 2.3 0 1 0 0 .01M469.6 201.6a2.3 2.3 0 1 0 0 .01M565.6 188.0a2.3 2.3 0 1 0 0 .01M487.1 196.7a2.3 2.3 0 1 0 0 .01M555.8 195.1a2.3 2.3 0 1 0 0 .01M452.2 200.7a2.3 2.3 0 1 0 0 .01M563.6 192.5a2.3 2.3 0 1 0 0 .01M525.4 197.9a2.3 2.3 0 1 0 0 .01M542.1 196.3a2.3 2.3 0 1 0 0 .01M557.1 190.9a2.3 2.3 0 1 0 0 .01M560.0 193.8a2.3 2.3 0 1 0 0 .01M499.8 194.9a2.3 2.3 0 1 0 0 .01M478.9 201.6a2.3 2.3 0 1 0 0 .01M527.1 194.8a2.3 2.3 0 1 0 0 .01M505.6 195.8a2.3 2.3 0 1 0 0 .01M492.8 196.7a2.3 2.3 0 1 0 0 .01M511.7 200.9a2.3 2.3 0 1 0 0 .01M507.0 195.4a2.3 2.3 0 1 0 0 .01M494.6 200.8a2.3 2.3 0 1 0 0 .01M525.8 191.7a2.3 2.3 0 1 0 0 .01M455.5 202.8a2.3 2.3 0 1 0 0 .01M530.9 191.1a2.3 2.3 0 1 0 0 .01M557.6 186.7a2.3 2.3 0 1 0 0 .01M552.7 191.6a2.3 2.3 0 1 0 0 .01M551.8 195.0a2.3 2.3 0 1 0 0 .01M532.4 196.8a2.3 2.3 0 1 0 0 .01M464.4 199.7a2.3 2.3 0 1 0 0 .01M510.2 197.9a2.3 2.3 0 1 0 0 .01M493.0 198.8a2.3 2.3 0 1 0 0 .01M451.9 202.6a2.3 2.3 0 1 0 0 .01M563.6 189.2a2.3 2.3 0 1 0 0 .01M508.8 196.5a2.3 2.3 0 1 0 0 .01M514.5 198.6a2.3 2.3 0 1 0 0 .01M527.2 198.3a2.3 2.3 0 1 0 0 .01M571.4 192.5a2.3 2.3 0 1 0 0 .01M448.4 203.5a2.3 2.3 0 1 0 0 .01M495.2 195.4a2.3 2.3 0 1 0 0 .01M546.7 196.2a2.3 2.3 0 1 0 0 .01M507.2 198.0a2.3 2.3 0 1 0 0 .01M574.9 186.1a2.3 2.3 0 1 0 0 .01M473.4 199.2a2.3 2.3 0 1 0 0 .01M503.5 201.6a2.3 2.3 0 1 0 0 .01M568.7 188.4a2.3 2.3 0 1 0 0 .01M549.2 189.0a2.3 2.3 0 1 0 0 .01M460.8 199.3a2.3 2.3 0 1 0 0 .01M567.0 187.8a2.3 2.3 0 1 0 0 .01M503.9 196.1a2.3 2.3 0 1 0 0 .01M542.4 190.1a2.3 2.3 0 1 0 0 .01M549.1 192.4a2.3 2.3 0 1 0 0 .01M574.0 190.7a2.3 2.3 0 1 0 0 .01M469.8 198.2a2.3 2.3 0 1 0 0 .01M520.9 198.5a2.3 2.3 0 1 0 0 .01M557.5 195.5a2.3 2.3 0 1 0 0 .01M551.1 191.9a2.3 2.3 0 1 0 0 .01M456.7 200.3a2.3 2.3 0 1 0 0 .01M574.3 192.2a2.3 2.3 0 1 0 0 .01M544.8 191.2a2.3 2.3 0 1 0 0 .01M564.8 191.7a2.3 2.3 0 1 0 0 .01M546.1 188.0a2.3 2.3 0 1 0 0 .01M453.0 207.0a2.3 2.3 0 1 0 0 .01M559.0 195.9a2.3 2.3 0 1 0 0 .01M489.4 197.9a2.3 2.3 0 1 0 0 .01M548.7 190.8a2.3 2.3 0 1 0 0 .01M499.2 199.6a2.3 2.3 0 1 0 0 .01M459.1 200.8a2.3 2.3 0 1 0 0 .01M483.2 201.5a2.3 2.3 0 1 0 0 .01M545.4 192.8a2.3 2.3 0 1 0 0 .01M467.9 202.6a2.3 2.3 0 1 0 0 .01M528.6 196.5a2.3 2.3 0 1 0 0 .01M505.1 200.8a2.3 2.3 0 1 0 0 .01M500.9 198.8a2.3 2.3 0 1 0 0 .01M529.7 198.3a2.3 2.3 0 1 0 0 .01M563.4 194.7a2.3 2.3 0 1 0 0 .01M521.1 200.0a2.3 2.3 0 1 0 0 .01M451.4 206.1a2.3 2.3 0 1 0 0 .01M540.7 191.0a2.3 2.3 0 1 0 0 .01M544.7 194.8a2.3 2.3 0 1 0 0 .01M570.5 187.1a2.3 2.3 0 1 0 0 .01M542.4 193.2a2.3 2.3 0 1 0 0 .01M496.6 194.9a2.3 2.3 0 1 0 0 .01M544.1 193.3a2.3 2.3 0 1 0 0 .01M474.0 201.8a2.3 2.3 0 1 0 0 .01M517.7 192.1a2.3 2.3 0 1 0 0 .01M544.4 189.6a2.3 2.3 0 1 0 0 .01M480.2 199.0a2.3 2.3 0 1 0 0 .01M554.5 193.5a2.3 2.3 0 1 0 0 .01M537.2 193.0a2.3 2.3 0 1 0 0 .01M544.5 196.8a2.3 2.3 0 1 0 0 .01M532.0 195.5a2.3 2.3 0 1 0 0 .01M541.9 188.6a2.3 2.3 0 1 0 0 .01M497.2 198.3a2.3 2.3 0 1 0 0 .01M561.0 189.7a2.3 2.3 0 1 0 0 .01M478.1 196.9a2.3 2.3 0 1 0 0 .01M563.4 187.2a2.3 2.3 0 1 0 0 .01M574.9 193.7a2.3 2.3 0 1 0 0 .01M508.3 201.0a2.3 2.3 0 1 0 0 .01M513.9 196.8a2.3 2.3 0 1 0 0 .01M483.0 199.8a2.3 2.3 0 1 0 0 .01M501.3 195.8a2.3 2.3 0 1 0 0 .01M556.1 186.9a2.3 2.3 0 1 0 0 .01M497.4 199.6a2.3 2.3 0 1 0 0 .01M453.2 202.8a2.3 2.3 0 1 0 0 .01M520.0 193.8a2.3 2.3 0 1 0 0 .01M576.6 194.4a2.3 2.3 0 1 0 0 .01M526.4 199.4a2.3 2.3 0 1 0 0 .01M471.1 199.3a2.3 2.3 0 1 0 0 .01M527.4 193.4a2.3 2.3 0 1 0 0 .01M464.0 205.1a2.3 2.3 0 1 0 0 .01M562.7 190.1a2.3 2.3 0 1 0 0 .01M495.7 196.9a2.3 2.3 0 1 0 0 .01M464.3 202.2a2.3 2.3 0 1 0 0 .01M515.9 197.4a2.3 2.3 0 1 0 0 .01M484.5 203.2a2.3 2.3 0 1 0 0 .01M480.5 204.0a2.3 2.3 0 1 0 0 .01M468.1 199.8a2.3 2.3 0 1 0 0 .01M483.1 207.7a2.3 2.3 0 1 0 0 .01M497.0 210.9a2.3 2.3 0 1 0 0 .01M488.5 209.6a2.3 2.3 0 1 0 0 .01M491.2 211.0a2.3 2.3 0 1 0 0 .01M491.4 203.5a2.3 2.3 0 1 0 0 .01M453.6 210.1a2.3 2.3 0 1 0 0 .01M496.8 204.5a2.3 2.3 0 1 0 0 .01M433.7 212.9a2.3 2.3 0 1 0 0 .01M471.3 208.4a2.3 2.3 0 1 0 0 .01M485.8 206.4a2.3 2.3 0 1 0 0 .01M444.5 209.4a2.3 2.3 0 1 0 0 .01M493.0 205.7a2.3 2.3 0 1 0 0 .01M482.1 211.9a2.3 2.3 0 1 0 0 .01M474.3 211.0a2.3 2.3 0 1 0 0 .01M450.7 209.0a2.3 2.3 0 1 0 0 .01M466.1 207.4a2.3 2.3 0 1 0 0 .01M458.9 207.2a2.3 2.3 0 1 0 0 .01M442.2 207.3a2.3 2.3 0 1 0 0 .01M486.7 211.7a2.3 2.3 0 1 0 0 .01M494.3 208.6a2.3 2.3 0 1 0 0 .01M475.8 205.6a2.3 2.3 0 1 0 0 .01M462.7 210.2a2.3 2.3 0 1 0 0 .01M467.0 212.7a2.3 2.3 0 1 0 0 .01M494.4 203.4a2.3 2.3 0 1 0 0 .01" fill="none" stroke="#0072BD" stroke-width="1.1"/>
<line x1="58.1" y1="220.2" x2="295.0" y2="21.9" stroke="#f0342a" stroke-width="1.15"/>
<line x1="400.4" y1="214.7" x2="678.5" y2="154.0" stroke="#f0342a" stroke-width="1.15"/>
<text x="62" y="25" font-size="14.4" style="fill:#1c1c1c">y = 0.99192x<tspan dx="0.6"> +</tspan><tspan dx="0.6"> 0.02457</tspan></text>
<text x="58.5" y="44.7" font-size="14.4" style="fill:#1c1c1c">R<tspan dy="-7.6" font-size="11.4">2</tspan><tspan dy="7.6" dx="0.9">=0.85557</tspan></text>
<text x="404.7" y="25" font-size="14.4" style="fill:#1c1c1c">y = 0.86275x<tspan dx="0.6"> +</tspan><tspan dx="0.6"> 0.19057</tspan></text>
<text x="401" y="44.7" font-size="14.4" style="fill:#1c1c1c">R<tspan dy="-7.6" font-size="11.4">2</tspan><tspan dy="7.6" dx="0.9">=0.33845</tspan></text>
</g></svg></body></html>
